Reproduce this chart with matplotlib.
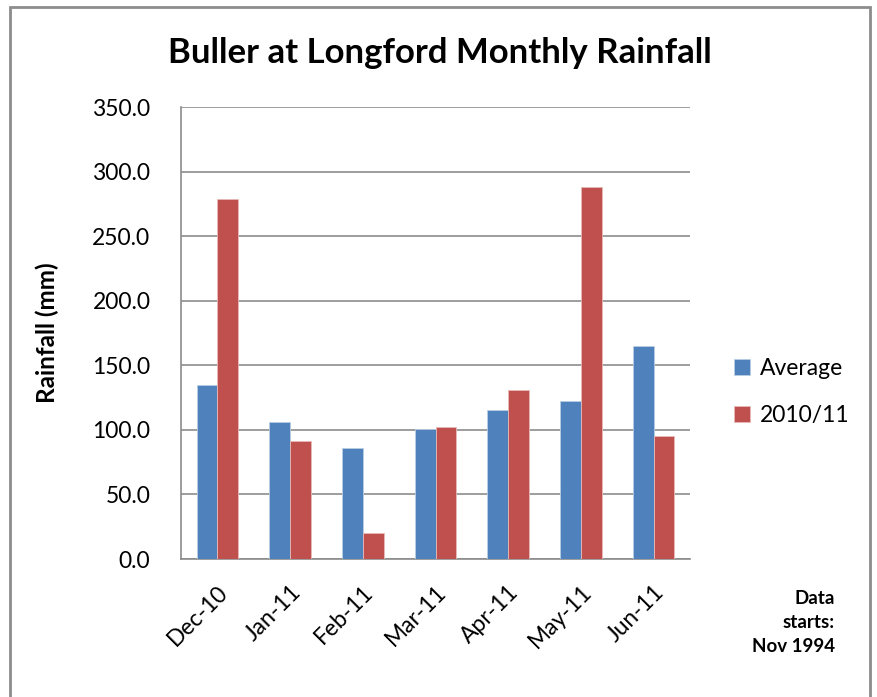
import matplotlib
matplotlib.use("Agg")
import matplotlib.pyplot as plt
import numpy as np
from matplotlib.patches import Rectangle

plt.rcParams['font.family'] = ['Lato', 'DejaVu Sans']

months = ["Dec-10", "Jan-11", "Feb-11", "Mar-11", "Apr-11", "May-11", "Jun-11"]
average = [134.7, 106.1, 85.9, 100.7, 115.1, 122.1, 164.7]
season = [278.5, 91.1, 20.4, 102.0, 130.9, 288.0, 95.0]
series_names = ["Average", "2010/11"]
colors = ["#4F81BD", "#C0504D"]

fig = plt.figure(figsize=(8.77, 6.97), dpi=100)
ax = fig.add_axes([181 / 877, 1 - 559 / 697, 509 / 877, 452 / 697])

x = np.arange(len(months))
w = 0.285
ax.bar(x - w / 2, average, w, color=colors[0], edgecolor="#B9CDE5", linewidth=0.6,
       label=series_names[0], zorder=3)
ax.bar(x + w / 2, season, w, color=colors[1], edgecolor="#E6B9B8", linewidth=0.6,
       label=series_names[1], zorder=3)

ax.set_xlim(-0.5, len(months) - 0.5)
ax.set_ylim(0, 350)
ax.set_yticks(np.arange(0, 351, 50))
ax.set_yticklabels([f"{v:.1f}" for v in np.arange(0, 351, 50)], fontsize=16.5)
ax.yaxis.grid(True, color="#8C8C8C", linewidth=1.2, zorder=0)
ax.tick_params(axis="y", length=0, pad=22)
ax.set_xticks(x)
ax.set_xticklabels(months, rotation=45, ha="right", rotation_mode="anchor", fontsize=16.5)
ax.tick_params(axis="x", length=0, pad=16)
for s in ["top", "right"]:
    ax.spines[s].set_visible(False)
for s in ["left", "bottom"]:
    ax.spines[s].set_color("#8C8C8C")
    ax.spines[s].set_linewidth(1.2)

ax.set_ylabel("Rainfall (mm)", fontsize=17.5, fontweight="bold", labelpad=24)
fig.text(0.5 * (170 + 710) / 877, 1 - 53 / 697, "Buller at Longford Monthly Rainfall",
         ha="center", va="center", fontsize=25, fontweight="bold")

leg = fig.legend(loc="upper left", bbox_to_anchor=(713 / 877, 1 - 337 / 697), frameon=False,
                 fontsize=16.5, handlelength=0.7, handleheight=0.7, labelspacing=1.15,
                 handletextpad=0.45)

fig.text(835 / 877, 1 - 590 / 697, "Data\nstarts:\nNov 1994", ha="right", va="top",
         fontsize=13.5, fontweight="bold", linespacing=1.5)

fig.patches.append(Rectangle((10 / 877, -0.05), 860 / 877, 1.05 - 7 / 697,
                             transform=fig.transFigure, fill=False,
                             edgecolor="#8C8C8C", linewidth=2))

fig.savefig("out.png", dpi=100)
